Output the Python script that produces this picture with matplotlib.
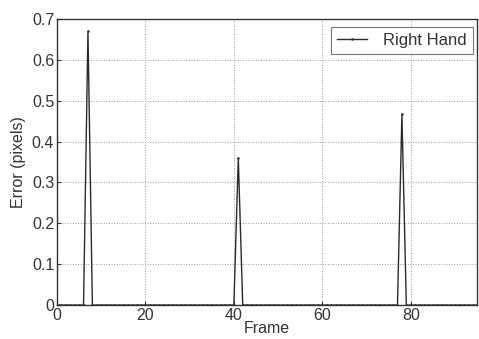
import numpy as np
import matplotlib
matplotlib.use("Agg")
import matplotlib.pyplot as plt

plt.rcParams['font.family'] = ['Liberation Sans', 'DejaVu Sans']

# Tracking error per frame for the right hand
frames = np.arange(0, 96)
peak_frames = [7, 41, 78]
peak_errors = [0.67, 0.36, 0.467]
error = np.zeros(len(frames))
error[peak_frames] = peak_errors

x_ticks = [0, 20, 40, 60, 80]
y_ticks = [0, 0.1, 0.2, 0.3, 0.4, 0.5, 0.6, 0.7]

fig = plt.figure(figsize=(4.79, 3.39), dpi=100)
ax = fig.add_axes([0.119, 0.100, 0.877, 0.844])

ax.plot(frames, error, color='#2a2a2a', lw=1.0, marker='.', markersize=1.5,
        label='Right Hand')

ax.set_xlim(0, 95)
ax.set_ylim(0, 0.7)
ax.set_xticks(x_ticks)
ax.set_yticks(y_ticks)
ax.set_yticklabels(['0', '0.1', '0.2', '0.3', '0.4', '0.5', '0.6', '0.7'])
ax.tick_params(direction='in', length=3, labelsize=11.5, colors='#333333',
               pad=2)
ax.grid(True, linestyle=':', color='#999999', linewidth=0.7)

for s in ax.spines.values():
    s.set_color('#333333')
    s.set_linewidth(1.0)

ax.set_xlabel('Frame', fontsize=11.5, color='#333333', labelpad=-1)
ax.set_ylabel('Error (pixels)', fontsize=11.5, color='#333333', labelpad=4)

leg = ax.legend(loc='upper right', fontsize=12, frameon=True, fancybox=False,
                edgecolor='#555555', handlelength=1.8, handletextpad=1.0,
                borderpad=0.35, borderaxespad=0.25,
                bbox_to_anchor=(1.0, 0.985))
leg.get_frame().set_linewidth(0.8)
for t in leg.get_texts():
    t.set_color('#333333')

fig.savefig('out.png', dpi=100)
